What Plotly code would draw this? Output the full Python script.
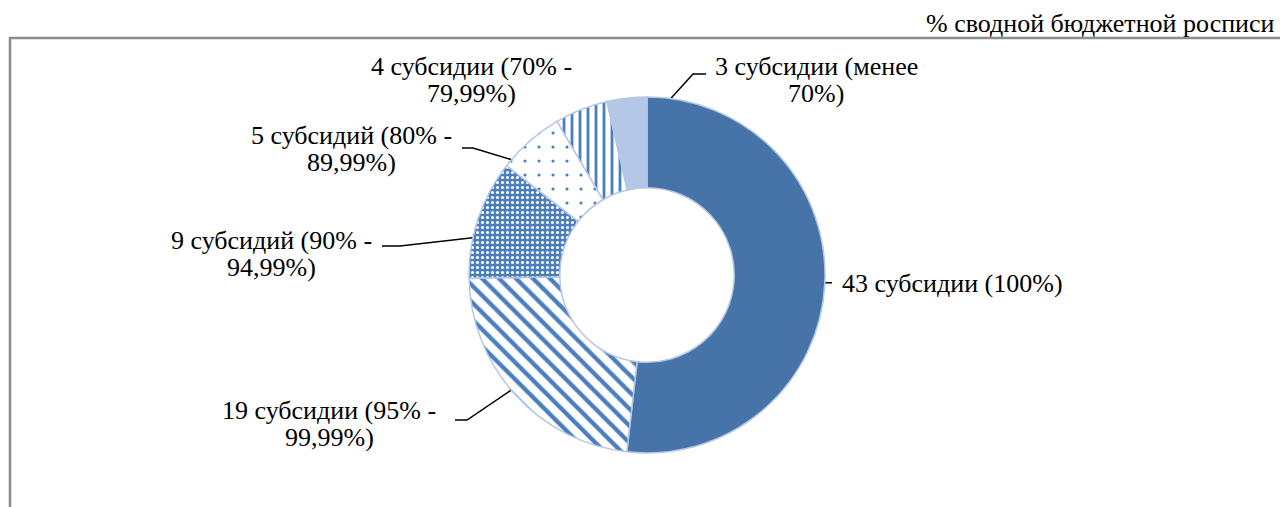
"""plot.py - кольцевая диаграмма исполнения субсидий
"""
import math

import plotly.graph_objs as go

# данные
labels = [
    "43 субсидии (100%)",
    "19 субсидии (95% - 99,99%)",
    "9 субсидий (90% - 94,99%)",
    "5 субсидий (80% - 89,99%)",
    "4 субсидии (70% - 79,99%)",
    "3 субсидии (менее 70%)",
]
values = [43, 19, 9, 5, 4, 3]
label_lines = [
    ["43 субсидии (100%)"],
    ["19 субсидии (95% -", "99,99%)"],
    ["9 субсидий (90% -", "94,99%)"],
    ["5 субсидий (80% -", "89,99%)"],
    ["4 субсидии (70% -", "79,99%)"],
    ["3 субсидии (менее", "70%)"],
]
unit_text = "% сводной бюджетной росписи"

W, H = 1280, 507
CX, CY, R = 647, 275, 178
BLUE = "#4674A8"
PBLUE = "#4A7EBE"
LIGHT = "#B4C7E7"
FONT = "Liberation Serif"
FSIZE = 26

# подписи: (x центра, y первой строки, выравнивание); выноски: точки излома
label_pos = [
    (840, 283, "left"),
    (329, 410, "center"),
    (271, 240, "center"),
    (351, 135, "center"),
    (471, 66, "center"),
    (816, 66, "center"),
]
leaders = [
    [(832, None)],
    [(467, 420), (455, 420)],
    [(400, 246), (382, 246)],
    [(473, 148), (462, 148)],
    None,
    [(693, 74), (706, 74)],
]

fig = go.Figure()

fig.add_trace(
    go.Pie(
        labels=labels,
        values=values,
        sort=False,
        direction="clockwise",
        rotation=0,
        hole=0.49,
        textinfo="none",
        showlegend=False,
        domain=dict(x=[(CX - R) / W, (CX + R) / W], y=[1 - (CY + R) / H, 1 - (CY - R) / H]),
        marker=dict(
            colors=[BLUE, "white", PBLUE, "white", "white", LIGHT],
            line=dict(color=LIGHT, width=1.5),
            pattern=dict(
                shape=["", "\\", ".", ".", "|", ""],
                fgcolor=[BLUE, PBLUE, "white", PBLUE, PBLUE, LIGHT],
                bgcolor=[BLUE, "white", PBLUE, "white", "white", LIGHT],
                size=[8, 12, 5, 14, 8, 8],
                solidity=[0.2, 0.36, 0.3, 0.04, 0.35, 0.2],
                fillmode="replace",
            ),
        ),
    )
)

# выноски от середины сегментов
total = sum(values)
cum = 0
for i, v in enumerate(values):
    mid = (cum + v / 2) / total * 2 * math.pi
    cum += v
    if leaders[i] is None:
        continue
    ax = CX + 0.755 * R * math.sin(mid)
    ay = CY - 0.755 * R * math.cos(mid)
    xs, ys = [ax], [ay]
    for px, py in leaders[i]:
        xs.append(px)
        ys.append(ay if py is None else py)
    fig.add_trace(
        go.Scatter(x=xs, y=ys, mode="lines", line=dict(color="black", width=1.5),
                   hoverinfo="skip", showlegend=False)
    )

for lines, (x, y, align) in zip(label_lines, label_pos):
    for k, t in enumerate(lines):
        fig.add_annotation(
            x=x, y=y + k * 27, text=t, showarrow=False,
            xanchor=align, yanchor="middle",
            font=dict(family=FONT, size=FSIZE, color="black"),
        )

fig.add_annotation(
    x=1277, y=23, text=unit_text, showarrow=False, xanchor="right", yanchor="middle",
    font=dict(family=FONT, size=FSIZE, color="black"),
)

# рамка области диаграммы
fig.add_shape(type="rect", x0=10, y0=38, x1=W + 20, y1=H + 20,
              line=dict(color="#8C8C8C", width=2.5), layer="below")

fig.update_xaxes(range=[0, W], visible=False, fixedrange=True)
fig.update_yaxes(range=[H, 0], visible=False, fixedrange=True)
fig.update_layout(
    width=W,
    height=H,
    margin=dict(l=0, r=0, t=0, b=0),
    paper_bgcolor="white",
    plot_bgcolor="white",
    showlegend=False,
)

fig.write_html(
    "out.html",
    config={"displayModeBar": False},
    post_script="document.body.style.margin='0';document.body.style.overflow='hidden';",
)
